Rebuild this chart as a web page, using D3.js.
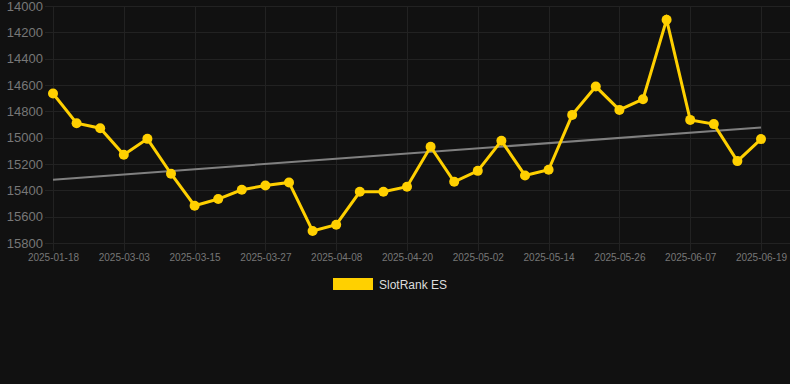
<!DOCTYPE html>
<meta charset="utf-8">
<style>
body { margin: 0; background: #111111; }
svg { display: block; font-family: "Liberation Sans", Arial, sans-serif; }
.grid line { stroke: #222222; stroke-width: 1; }
.axis text { fill: #777777; }
.line { fill: none; stroke: #ffd000; stroke-width: 3; }
.dot { fill: #ffd000; }
.trend { stroke: #808080; stroke-width: 2; }
</style>
<body></body>
<script src="https://d3js.org/d3.v7.min.js"></script>
<script>
// dates on the category axis
var dates = ["2025-01-18", "2025-02-23", "2025-02-27", "2025-03-03", "2025-03-07", "2025-03-11",
  "2025-03-15", "2025-03-19", "2025-03-23", "2025-03-27", "2025-03-31", "2025-04-04",
  "2025-04-08", "2025-04-12", "2025-04-16", "2025-04-20", "2025-04-24", "2025-04-28",
  "2025-05-02", "2025-05-06", "2025-05-10", "2025-05-14", "2025-05-18", "2025-05-22",
  "2025-05-26", "2025-05-30", "2025-06-03", "2025-06-07", "2025-06-11", "2025-06-15",
  "2025-06-19"];

// rank values (lower is better, axis reversed)
var ranks = [14665, 14890, 14928, 15130, 15009, 15274, 15517, 15466, 15396, 15363,
  15340, 15709, 15661, 15411, 15411, 15373, 15069, 15335, 15252, 15024,
  15287, 15244, 14827, 14612, 14789, 14708, 14104, 14865, 14897, 15178,
  15011];

var yTicks = [14000, 14200, 14400, 14600, 14800, 15000, 15200, 15400, 15600, 15800];
var seriesName = "SlotRank ES";

var width = 790, height = 384;
var pLeft = 53, pRight = 761, pTop = 6, pBottom = 243;

var svg = d3.select("body").append("svg")
    .attr("width", width)
    .attr("height", height);

var xScale = d3.scalePoint()
    .domain(dates)
    .range([pLeft, pRight]);

var yScale = d3.scaleLinear()
    .domain([14000, 15800])
    .range([pTop, pBottom]);

// shown labels: every 3rd date
var xShown = dates.filter(function(d, i) { return i % 3 === 0; });

// horizontal grid
svg.append("g")
    .attr("class", "grid")
    .selectAll("line")
    .data(yTicks)
    .enter().append("line")
    .attr("x1", pLeft - 8)
    .attr("x2", width)
    .attr("y1", function(d) { return Math.round(yScale(d)) + 0.5; })
    .attr("y2", function(d) { return Math.round(yScale(d)) + 0.5; });

// vertical grid
svg.append("g")
    .attr("class", "grid")
    .selectAll("line")
    .data(xShown)
    .enter().append("line")
    .attr("x1", function(d) { return Math.round(xScale(d)) + 0.5; })
    .attr("x2", function(d) { return Math.round(xScale(d)) + 0.5; })
    .attr("y1", pTop)
    .attr("y2", pBottom + 8);

// y axis labels
var yAxis = svg.append("g")
    .attr("class", "axis")
    .attr("transform", "translate(" + (pLeft - 10) + ",0)")
    .call(d3.axisLeft(yScale).tickValues(yTicks).tickSize(0).tickPadding(0).tickFormat(d3.format("d")));
yAxis.select(".domain").remove();
yAxis.selectAll("text").style("font-size", "13px");

// x axis labels
var xAxis = svg.append("g")
    .attr("class", "axis")
    .attr("transform", "translate(0," + (pBottom + 11) + ")")
    .call(d3.axisBottom(xScale).tickValues(xShown).tickSize(0).tickPadding(0));
xAxis.select(".domain").remove();
xAxis.selectAll("text").style("font-size", "10px");

// linear trend (least squares over index)
var n = ranks.length;
var mx = d3.mean(ranks, function(d, i) { return i; });
var my = d3.mean(ranks);
var sxy = d3.sum(ranks, function(d, i) { return (i - mx) * (d - my); });
var sxx = d3.sum(ranks, function(d, i) { return (i - mx) * (i - mx); });
var slope = sxy / sxx;
var icpt = my - slope * mx;

svg.append("line")
    .attr("class", "trend")
    .attr("x1", xScale(dates[0]))
    .attr("y1", yScale(icpt))
    .attr("x2", xScale(dates[n - 1]))
    .attr("y2", yScale(icpt + slope * (n - 1)));

var line = d3.line()
    .x(function(d, i) { return xScale(dates[i]); })
    .y(function(d) { return yScale(d); });

svg.append("path")
    .datum(ranks)
    .attr("class", "line")
    .attr("d", line);

svg.selectAll(".dot")
    .data(ranks)
    .enter().append("circle")
    .attr("class", "dot")
    .attr("r", 5)
    .attr("cx", function(d, i) { return xScale(dates[i]); })
    .attr("cy", function(d) { return yScale(d); });

// legend
var legend = svg.append("g").attr("transform", "translate(333,278)");
legend.append("rect")
    .attr("width", 40)
    .attr("height", 12)
    .attr("fill", "#ffd000");
legend.append("text")
    .attr("x", 46)
    .attr("y", 10.5)
    .attr("fill", "#dddddd")
    .style("font-size", "12px")
    .text(seriesName);
</script>
